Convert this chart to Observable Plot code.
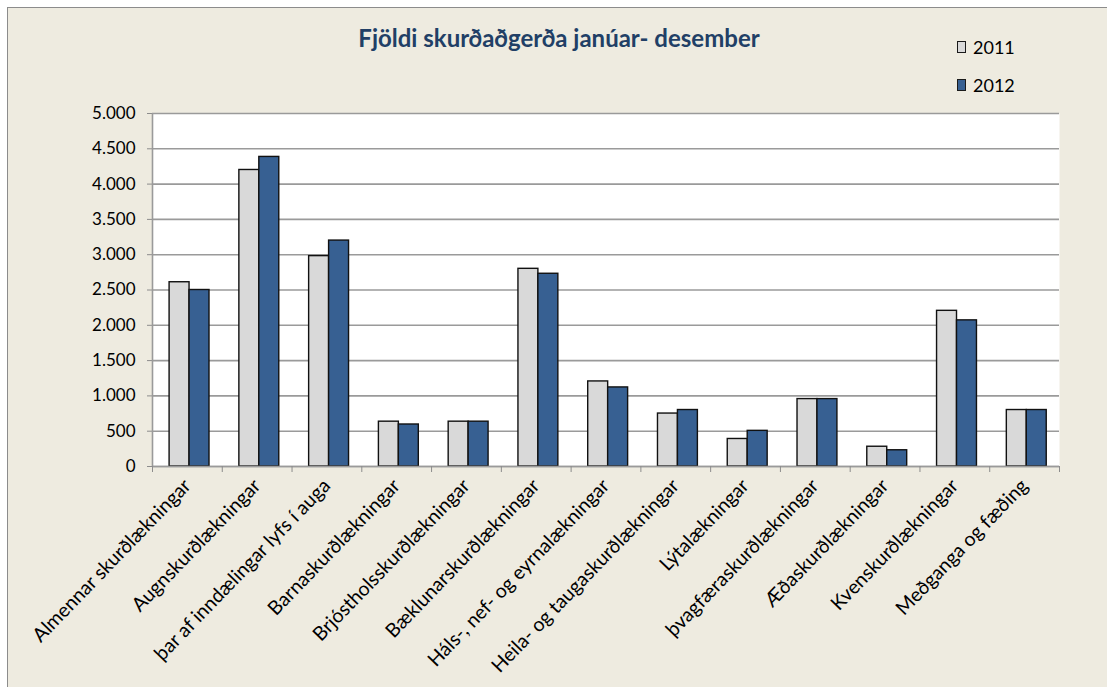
<!DOCTYPE html>
<html>
<head>
<meta charset="utf-8">
<script src="https://cdn.jsdelivr.net/npm/d3@7"></script>
<script src="https://cdn.jsdelivr.net/npm/@observablehq/plot@0.6"></script>
<style>
  html, body { margin: 0; padding: 0; background: #ffffff; }
  body { width: 1107px; height: 687px; position: relative; overflow: hidden; font-family: Lato, "Open Sans", sans-serif; }
  #frame { position: absolute; left: 7px; top: 7px; width: 1110px; height: 690px; background: #EEEBE0; border: 1px solid #8c8c8c; box-sizing: border-box; }
  #title { position: absolute; left: 0; top: 23px; width: 1118px; text-align: center; font-weight: bold; font-size: 24px; color: #213F66; }
  #legend { position: absolute; left: 957px; top: 36px; font-size: 18px; color: #000; }
  .li { display: flex; align-items: center; height: 22px; margin-bottom: 16px; }
  .sw { width: 9px; height: 12px; border: 1.5px solid #1a1a1a; margin-right: 7px; box-sizing: border-box; }
  #chart { position: absolute; left: 0; top: 0; }
</style>
</head>
<body>
<div id="frame"></div>
<div id="title">Fjöldi skurðaðgerða janúar- desember</div>
<div id="legend"></div>
<div id="chart"></div>
<script>
const categories = [
  "Almennar skurðlækningar",
  "Augnskurðlækningar",
  "þar af inndælingar lyfs í auga",
  "Barnaskurðlækningar",
  "Brjóstholsskurðlækningar",
  "Bæklunarskurðlækningar",
  "Háls-, nef- og eyrnalækningar",
  "Heila- og taugaskurðlækningar",
  "Lýtalækningar",
  "þvagfæraskurðlækningar",
  "Æðaskurðlækningar",
  "Kvenskurðlækningar",
  "Meðganga og fæðing"
];
const years = ["2011", "2012"];
const values2011 = [2610, 4200, 2980, 635, 635, 2800, 1205, 750, 390, 955, 280, 2205, 800];
const values2012 = [2500, 4385, 3200, 595, 635, 2730, 1120, 800, 505, 955, 230, 2070, 800];
const yTicks = [0, 500, 1000, 1500, 2000, 2500, 3000, 3500, 4000, 4500, 5000];
const colors = ["#D9D9D9", "#376092"];

const rows = [];
categories.forEach((c, i) => {
  rows.push({cat: c, i, year: years[0], k: 0, value: values2011[i]});
  rows.push({cat: c, i, year: years[1], k: 1, value: values2012[i]});
});

// layout fractions within each category slot
const groupStart = 0.245, barW = 0.286;
const fmt = v => d3.format(",")(v).replace(/,/g, ".");

const n = categories.length;
const plot = Plot.plot({
  width: 1107,
  height: 687,
  marginLeft: 152,
  marginRight: 48,
  marginTop: 113,
  marginBottom: 221,
  style: {background: "transparent", fontFamily: "Lato, 'Open Sans', sans-serif", fontSize: "17px", color: "#000"},
  x: {type: "linear", domain: [0, n]},
  y: {domain: [0, 5000]},
  color: {domain: years, range: colors},
  marks: [
    Plot.frame({fill: "white", stroke: null}),
    Plot.ruleY(yTicks, {stroke: "#9a9a9a", strokeWidth: 1.6}),
    Plot.rectY(rows, {
      x1: d => d.i + groupStart + d.k * barW,
      x2: d => d.i + groupStart + (d.k + 1) * barW,
      y1: 0,
      y2: "value",
      fill: "year",
      stroke: "#111",
      strokeWidth: 1.4
    }),
    Plot.axisY({ticks: yTicks, tickFormat: fmt, tickSize: 5, tickPadding: 12, stroke: "#8c8c8c", fontSize: 17, label: null}),
    Plot.ruleX([0], {stroke: "#9a9a9a", strokeWidth: 1.6}),
    Plot.ruleY([0], {stroke: "#9a9a9a", strokeWidth: 1.6}),
    Plot.axisX({ticks: d3.range(0, n + 1), tickFormat: () => "", tickSize: 6, stroke: "#8c8c8c", label: null}),
    Plot.axisX({
      ticks: d3.range(0, n).map(i => i + 0.5),
      tickFormat: t => categories[Math.floor(t)],
      tickSize: 0,
      tickPadding: 16,
      tickRotate: -46,
      fontSize: 19.5,
      label: null
    })
  ]
});
document.getElementById("chart").appendChild(plot);

const legend = document.getElementById("legend");
years.forEach((y, k) => {
  const li = document.createElement("div");
  li.className = "li";
  const sw = document.createElement("div");
  sw.className = "sw";
  sw.style.background = colors[k];
  const t = document.createElement("span");
  t.textContent = y;
  li.appendChild(sw); li.appendChild(t);
  legend.appendChild(li);
});
</script>
</body>
</html>
